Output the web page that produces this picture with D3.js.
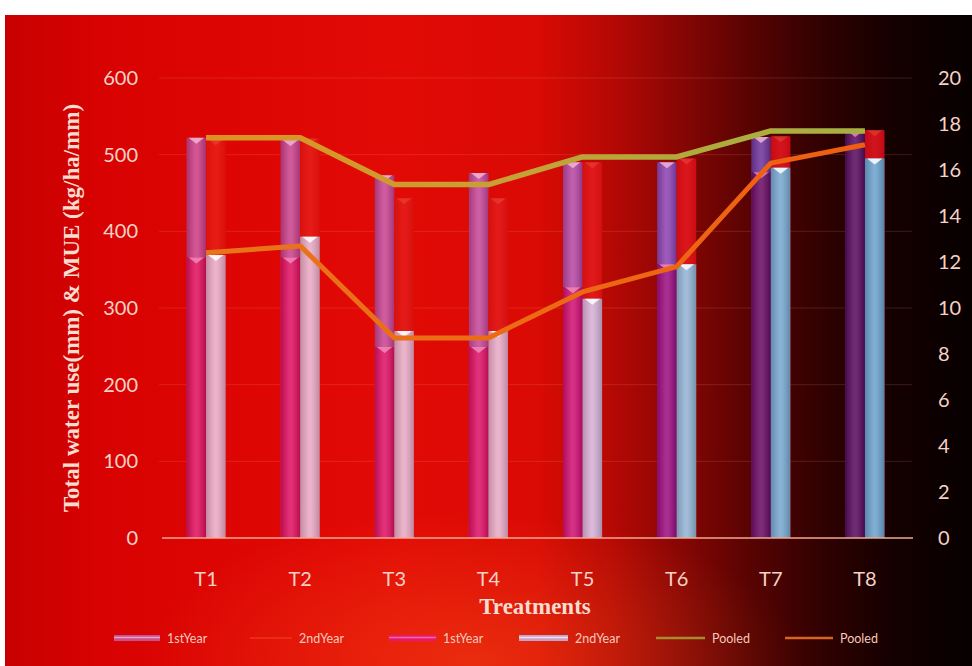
<!DOCTYPE html>
<html>
<head>
<meta charset="utf-8">
<script src="https://cdn.jsdelivr.net/npm/d3@7"></script>
<style>
  body { margin: 0; background: #ffffff; }
  svg { display: block; }
</style>
</head>
<body>
<svg id="chart" width="972" height="666"></svg>
<script>
// Treatments and their measured values
const treatments = ["T1", "T2", "T3", "T4", "T5", "T6", "T7", "T8"];
const waterUse1st = [522, 519, 473, 476, 490, 490, 523, 528];      // mm, left axis
const waterUse2nd = [520, 521, 443, 443, 490, 495, 524, 532];      // mm, left axis
const mue1st = [12.2, 12.2, 8.3, 8.3, 10.9, 11.9, 15.9, 17.7];     // kg/ha/mm, right axis
const mue2nd = [12.3, 13.1, 9.0, 9.0, 10.4, 11.9, 16.1, 16.5];     // kg/ha/mm, right axis
const pooledWaterUse = [522, 522, 461, 461, 497, 497, 531, 531];   // left axis
const pooledMue = [12.4, 12.7, 8.7, 8.7, 10.7, 11.8, 16.3, 17.1];  // right axis
const leftTicks = [0, 100, 200, 300, 400, 500, 600];
const rightTicks = [0, 2, 4, 6, 8, 10, 12, 14, 16, 18, 20];
const legendLabels = ["1stYear", "2ndYear", "1stYear", "2ndYear", "Pooled", "Pooled"];

const svg = d3.select("#chart");
const defs = svg.append("defs");

const plot = { left: 159, right: 912, top: 78, bottom: 538 };

function hGradient(id, stops, x1, x2) {
  const g = defs.append("linearGradient").attr("id", id)
    .attr("gradientUnits", "userSpaceOnUse")
    .attr("x1", x1).attr("x2", x2).attr("y1", 0).attr("y2", 0);
  stops.forEach(([o, c]) => g.append("stop").attr("offset", o).attr("stop-color", c));
}

// Background: bright red fading to black on the right
hGradient("bg", [
  [0, "#c80000"], [0.1, "#d80202"], [0.4, "#e20a05"], [0.55, "#da0a04"],
  [0.63, "#b40804"], [0.7, "#860604"], [0.77, "#580302"], [0.85, "#2e0101"],
  [0.92, "#140000"], [1, "#070000"]
], 5, 972);
const glow = defs.append("radialGradient").attr("id", "glow")
  .attr("gradientUnits", "userSpaceOnUse").attr("cx", 470).attr("cy", 660).attr("r", 330)
  .attr("gradientTransform", "translate(470,660) scale(1,0.45) translate(-470,-660)");
glow.append("stop").attr("offset", 0).attr("stop-color", "#ff6a20").attr("stop-opacity", 0.35);
glow.append("stop").attr("offset", 1).attr("stop-color", "#ff6a20").attr("stop-opacity", 0);

// Series fills shift in hue across the plot
hGradient("g1", [[0, "#cc3a80"], [0.5, "#c4469a"], [0.6, "#a444a8"], [0.68, "#8a40b0"], [0.8, "#6c3298"], [1, "#4a1268"]], plot.left, plot.right);
hGradient("g2", [[0, "#e6120a"], [0.55, "#e01010"], [0.8, "#d20a12"], [1, "#cc0a14"]], plot.left, plot.right);
hGradient("g3", [[0, "#e00e5a"], [0.5, "#dc1068"], [0.6, "#c00c78"], [0.68, "#980c80"], [0.8, "#680a62"], [1, "#4c0a58"]], plot.left, plot.right);
hGradient("g4", [[0, "#eaa6c0"], [0.45, "#e6a8c4"], [0.57, "#d8acd4"], [0.68, "#96b4d2"], [0.8, "#78a6ce"], [1, "#669ecb"]], plot.left, plot.right);
hGradient("gLineW", [[0, "#e0901e"], [0.45, "#c8a034"], [0.7, "#b0aa3c"], [1, "#a6b244"]], plot.left, plot.right);
hGradient("gLineM", [[0, "#e8761a"], [0.5, "#ec6a14"], [1, "#f05c10"]], plot.left, plot.right);

// Cylinder shading across each bar
function shadeGradient(id, k) {
  const s = defs.append("linearGradient").attr("id", id).attr("x1", 0).attr("x2", 1);
  [[0, "#000", 0.16], [0.45, "#fff", 0.14], [0.55, "#fff", 0.14], [1, "#000", 0.18]].forEach(([o, c, op]) =>
    s.append("stop").attr("offset", o).attr("stop-color", c).attr("stop-opacity", op * k));
}
shadeGradient("shade", 1);
shadeGradient("shadeSoft", 0.3);

svg.append("rect").attr("x", 5).attr("y", 15).attr("width", 967).attr("height", 651).attr("fill", "url(#bg)");
svg.append("rect").attr("x", 5).attr("y", 15).attr("width", 967).attr("height", 651).attr("fill", "url(#glow)");

// Scales
const x = d3.scaleBand().domain(treatments).range([plot.left, plot.right])
  .paddingInner(0.585).paddingOuter(0.2925);
const xSub = d3.scaleBand().domain(["a", "b"]).range([0, x.bandwidth()]);
const yL = d3.scaleLinear().domain([0, 600]).range([plot.bottom, plot.top]);
const yR = d3.scaleLinear().domain([0, 20]).range([plot.bottom, plot.top]);

// Faint gridlines
svg.append("g").selectAll("line").data(leftTicks.slice(1)).join("line")
  .attr("x1", plot.left).attr("x2", plot.right)
  .attr("y1", d => yL(d)).attr("y2", d => yL(d))
  .attr("stroke", "#ffb090").attr("stroke-opacity", 0.16).attr("stroke-width", 1);

// Bar series: primary axis first, secondary axis drawn over them
const series = [
  { values: waterUse1st, scale: yL, slot: "a", fill: "url(#g1)", shade: "url(#shade)", cap: "#f0b4d4", capOp: 0.85 },
  { values: waterUse2nd, scale: yL, slot: "b", fill: "url(#g2)", shade: "url(#shadeSoft)", cap: "#f06050", capOp: 0.35 },
  { values: mue1st, scale: yR, slot: "a", fill: "url(#g3)", shade: "url(#shade)", cap: "#f090c0", capOp: 0.8 },
  { values: mue2nd, scale: yR, slot: "b", fill: "url(#g4)", shade: "url(#shade)", cap: "#ffffff", capOp: 0.85 }
];
const bw = xSub.bandwidth();
series.forEach(s => {
  const g = svg.append("g");
  const rows = treatments.map((t, i) => ({ t, v: s.values[i] }));
  g.selectAll("rect.bar").data(rows).join("rect").attr("class", "bar")
    .attr("x", d => x(d.t) + xSub(s.slot)).attr("width", bw)
    .attr("y", d => s.scale(d.v)).attr("height", d => plot.bottom - s.scale(d.v))
    .attr("fill", s.fill);
  g.selectAll("rect.shade").data(rows).join("rect").attr("class", "shade")
    .attr("x", d => x(d.t) + xSub(s.slot)).attr("width", bw)
    .attr("y", d => s.scale(d.v)).attr("height", d => plot.bottom - s.scale(d.v))
    .attr("fill", s.shade);
  g.selectAll("path.cap").data(rows).join("path").attr("class", "cap")
    .attr("d", d => {
      const x0 = x(d.t) + xSub(s.slot), y0 = s.scale(d.v);
      return `M${x0 + 2},${y0}L${x0 + bw - 2},${y0}L${x0 + bw / 2},${y0 + 6}Z`;
    })
    .attr("fill", s.cap).attr("fill-opacity", s.capOp);
});

// Axis baseline
svg.append("line").attr("x1", plot.left + 3).attr("x2", plot.right + 1)
  .attr("y1", plot.bottom).attr("y2", plot.bottom)
  .attr("stroke", "#f2a890").attr("stroke-width", 1.6);

// Pooled lines
const cx = t => x(t) + x.bandwidth() / 2;
svg.append("path").datum(treatments.map((t, i) => [cx(t), yL(pooledWaterUse[i])]))
  .attr("d", d3.line()).attr("fill", "none").attr("stroke", "url(#gLineW)")
  .attr("stroke-width", 5.5).attr("stroke-linejoin", "round");
svg.append("path").datum(treatments.map((t, i) => [cx(t), yR(pooledMue[i])]))
  .attr("d", d3.line()).attr("fill", "none").attr("stroke", "url(#gLineM)")
  .attr("stroke-width", 5).attr("stroke-linejoin", "round");

// Axes
const tickFont = "Lato, 'Open Sans', sans-serif";
const axL = svg.append("g").attr("transform", `translate(${plot.left - 19},0)`)
  .call(d3.axisLeft(yL).tickValues(leftTicks).tickSize(0).tickPadding(2));
const axR = svg.append("g").attr("transform", `translate(${plot.right + 24},0)`)
  .call(d3.axisRight(yR).tickValues(rightTicks).tickSize(0).tickPadding(2));
const axB = svg.append("g").attr("transform", `translate(0,${plot.bottom + 34})`)
  .call(d3.axisBottom(x).tickSize(0).tickPadding(0));
[axL, axR, axB].forEach(a => {
  a.select(".domain").remove();
  a.selectAll("text").attr("fill", "#f6d2c8").style("font-family", tickFont).style("font-size", "20px");
});

// Axis titles
svg.append("text").attr("transform", "translate(79,308) rotate(-90)")
  .attr("text-anchor", "middle").attr("fill", "#f8dcd0")
  .style("font-family", "'Liberation Serif', 'DejaVu Serif', serif").style("font-weight", "bold").style("font-size", "23px")
  .text("Total water use(mm) & MUE (kg/ha/mm)");
svg.append("text").attr("x", 535).attr("y", 614)
  .attr("text-anchor", "middle").attr("fill", "#f8dcd0")
  .style("font-family", "'Liberation Serif', 'DejaVu Serif', serif").style("font-weight", "bold").style("font-size", "23px")
  .text("Treatments");

// Legend
const legendItems = [
  { x: 114, w: 46, stroke: "#c8508c", width: 6, mid: "#eaa0c8" },
  { x: 250, w: 42, stroke: "#ee2a14", width: 2 },
  { x: 389, w: 47, stroke: "#e61870", width: 6, mid: "#f26aa0" },
  { x: 519, w: 49, stroke: "#c8a0c4", width: 6, mid: "#eee0f0" },
  { x: 656, w: 49, stroke: "#a88a30", width: 2.5 },
  { x: 785, w: 48, stroke: "#d8641e", width: 2.5 }
];
const lg = svg.append("g");
legendItems.forEach((it, i) => {
  lg.append("line").attr("x1", it.x).attr("x2", it.x + it.w).attr("y1", 638).attr("y2", 638)
    .attr("stroke", it.stroke).attr("stroke-width", it.width);
  if (it.mid) lg.append("line").attr("x1", it.x).attr("x2", it.x + it.w).attr("y1", 637.5).attr("y2", 637.5)
    .attr("stroke", it.mid).attr("stroke-width", 1.5);
  lg.append("text").attr("x", it.x + it.w + 7).attr("y", 642.5)
    .attr("fill", "#f4c8bc").style("font-family", tickFont).style("font-size", "12.5px")
    .text(legendLabels[i]);
});
</script>
</body>
</html>
